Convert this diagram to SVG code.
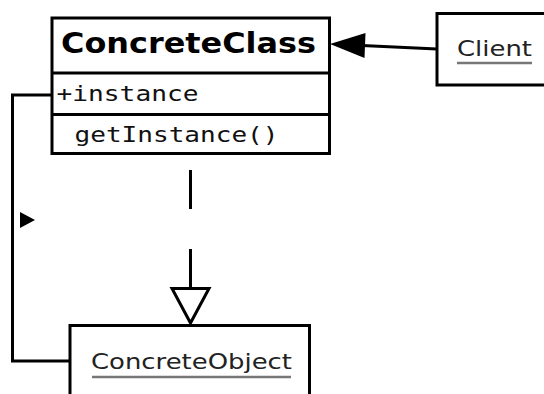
<svg xmlns="http://www.w3.org/2000/svg" width="544" height="394" viewBox="0 0 544 394">
  <style>
    .box { fill: #ffffff; stroke: #000000; stroke-width: 3; }
    .line { fill: none; stroke: #000000; stroke-width: 3; }
    .title { font-family: "DejaVu Sans", "Liberation Sans", sans-serif; font-weight: bold; font-size: 29px; fill: #000000; }
    .member { font-family: "DejaVu Sans Mono", "Liberation Mono", monospace; font-size: 21px; fill: #111111; }
    .obj { font-family: "DejaVu Sans", "Liberation Sans", sans-serif; font-size: 22px; fill: #222222; }
    .uline { stroke: #777777; stroke-width: 2.5; }
  </style>

  <g id="connectors">
    <!-- self reference: instance attribute to ConcreteObject -->
    <polyline class="line" points="52,95 12.5,95 12.5,361 70,361"/>
    <polygon points="20,212 35,220 20,228" fill="#000000"/>
    <!-- realization: dashed line with hollow triangle -->
    <line class="line" x1="190.5" y1="170" x2="190.5" y2="288" stroke-dasharray="39 40"/>
    <polygon points="172,288.5 209,288.5 190.5,323" fill="#ffffff" stroke="#000000" stroke-width="3" stroke-linejoin="miter"/>
    <!-- association: Client to ConcreteClass -->
    <line class="line" x1="437" y1="49" x2="362" y2="45.5"/>
    <polygon points="330,44 365.5,33 364.5,58" fill="#000000"/>
  </g>

  <g id="concrete-class">
    <rect class="box" x="52" y="18" width="277.5" height="135.5"/>
    <line class="line" x1="52" y1="73" x2="329.5" y2="73"/>
    <line class="line" x1="52" y1="114.5" x2="329.5" y2="114.5"/>
    <text class="title" x="61" y="53" textLength="255" lengthAdjust="spacingAndGlyphs">ConcreteClass</text>
    <text class="member" x="56.5" y="101" textLength="142" lengthAdjust="spacingAndGlyphs">+instance</text>
    <text class="member" x="74.5" y="142" textLength="204" lengthAdjust="spacingAndGlyphs">getInstance()</text>
  </g>

  <g id="client">
    <rect class="box" x="437" y="13.5" width="120" height="71.5"/>
    <text class="obj" x="457" y="56" textLength="75" lengthAdjust="spacingAndGlyphs">Client</text>
    <line class="uline" x1="457" y1="63" x2="532" y2="63"/>
  </g>

  <g id="concrete-object">
    <rect class="box" x="70" y="325.5" width="239.5" height="90"/>
    <text class="obj" x="91" y="369" textLength="201" lengthAdjust="spacingAndGlyphs">ConcreteObject</text>
    <line class="uline" x1="92" y1="377" x2="291" y2="377"/>
  </g>
</svg>
